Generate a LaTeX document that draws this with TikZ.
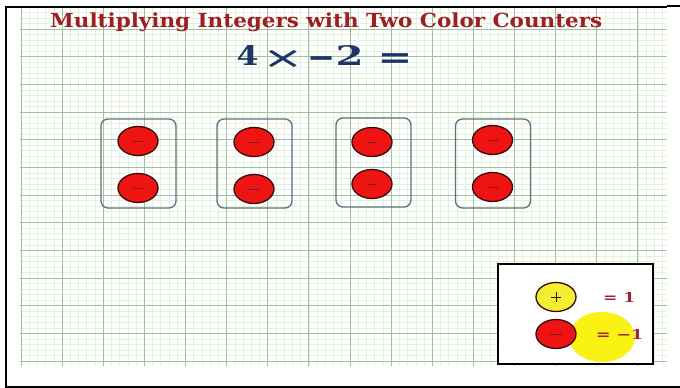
\documentclass[tikz,border=0pt]{standalone}
\usepackage{graphicx}
\usepackage{fontspec}
\setmainfont{Liberation Serif}
\newfontfamily\heavyserif{DejaVu Serif}
\newfontfamily\symsans{DejaVu Sans}
\usetikzlibrary{shapes.geometric}
\definecolor{gridmajor}{HTML}{9CC29E}
\definecolor{gridminor}{HTML}{E2F1DC}
\definecolor{titlered}{HTML}{9E1E24}
\definecolor{eqblue}{HTML}{1E3666}
\definecolor{ctrred}{HTML}{EE1414}
\definecolor{ctredge}{HTML}{3A0A0A}
\definecolor{minuscol}{HTML}{8A1616}
\definecolor{boxedge}{HTML}{5F7080}
\definecolor{ctryellow}{HTML}{F3EE30}
\definecolor{glow}{HTML}{FAF214}
\definecolor{legred}{HTML}{A0203A}
\tikzset{
  redctr/.style={ellipse, draw=ctredge, line width=1.3pt, fill=ctrred, minimum width=40pt, minimum height=29pt, inner sep=0pt},
  yelctr/.style={ellipse, draw=ctredge, line width=1.3pt, fill=ctryellow, minimum width=40pt, minimum height=29pt, inner sep=0pt},
  groupbox/.style={draw=boxedge, line width=1.3pt, rounded corners=7pt, minimum width=75pt, minimum height=89pt, inner sep=0pt},
  minusmark/.style={draw=minuscol, line width=1pt},
  frameline/.style={draw=black, line width=2pt},
  eqglyph/.style={anchor=base, inner sep=0pt, text=eqblue, font=\heavyserif\bfseries},
  eqsym/.style={anchor=base, inner sep=0pt, text=eqblue, font=\symsans\fontsize{32}{34}\selectfont\bfseries},
  eqsymlight/.style={anchor=base, inner sep=0pt, text=eqblue, font=\symsans\fontsize{32}{34}\selectfont}
}
\begin{document}
\begin{tikzpicture}[x=1pt,y=-1pt]
\useasboundingbox (0,0) rectangle (680,388);
\fill[white] (0,0) rectangle (680,388);
% grid paper
\foreach \i in {0,...,78}
  \draw[gridminor, line width=0.7pt] ({21+\i*8.226},6.9) -- ({21+\i*8.226},366);
\foreach \i in {0,...,64}
  \draw[gridminor, line width=0.7pt] (20,{6.9+\i*5.534}) -- (667,{6.9+\i*5.534});
\foreach \i in {0,...,15}
  \draw[gridmajor, line width=1pt] ({21+\i*41.13},6.9) -- ({21+\i*41.13},366);
\foreach \i in {0,...,12}
  \draw[gridmajor, line width=1pt] (20,{29+\i*27.67}) -- (667,{29+\i*27.67});
% frame
\draw[frameline] (6,6) -- (6,387);
\draw[frameline] (5,7) -- (667,7);
\draw[frameline] (667,6) -- (680,6);
\draw[frameline] (5,386.5) -- (680,386.5);
% title
\node[anchor=base west, inner sep=0pt, text=titlered] (title) at (50,27.7)
  {\resizebox{552pt}{14.7pt}{\heavyserif\bfseries Multiplying Integers with Two Color Counters}};
% equation
\node[eqglyph] (eqfour) at (247.5,65) {\resizebox{22pt}{20pt}{4}};
\node[eqsymlight] (eqtimes) at (283.5,68) {\scalebox{1.55}[0.95]{×}};
\node[eqsym] (eqminus) at (322,68) {\scalebox{1.05}[1]{−}};
\node[eqglyph] (eqtwo) at (349.5,65) {\resizebox{28pt}{20pt}{2}};
\node[eqsym] (eqeq) at (395,67) {\scalebox{1.3}[0.9]{=}};
% groups
\node[groupbox] (g1) at (138.5,163.5) {};
\node[groupbox] (g2) at (254.5,163.5) {};
\node[groupbox] (g3) at (373.5,162.5) {};
\node[groupbox] (g4) at (493,163.5) {};
\foreach \n/\x/\ya/\yb in {a/138/141/188, b/254/142/189, c/372/142/184, d/492.5/140/187}{
  \node[redctr] (c\n1) at (\x,\ya) {};
  \node[redctr] (c\n2) at (\x,\yb) {};
  \draw[minusmark] ([xshift=-5pt]c\n1.center) -- ([xshift=5pt]c\n1.center);
  \draw[minusmark] ([xshift=-5pt]c\n2.center) -- ([xshift=5pt]c\n2.center);
}
% legend
\node[draw=black, line width=1.8pt, fill=white, minimum width=155pt, minimum height=100pt, inner sep=0pt] (legend) at (575.5,314) {};
\node[ellipse, fill=glow, minimum width=66pt, minimum height=50pt, inner sep=0pt] (glowspot) at (602,337) {};
\node[yelctr] (plusctr) at (556,297) {};
\draw[draw=ctredge, line width=1pt] ([xshift=-5pt]plusctr.center) -- ([xshift=5pt]plusctr.center);
\draw[draw=ctredge, line width=1pt] ([yshift=-5pt]plusctr.center) -- ([yshift=5pt]plusctr.center);
\node[redctr] (minusctr) at (556,334) {};
\draw[minusmark] ([xshift=-6pt]minusctr.center) -- ([xshift=6pt]minusctr.center);
\node[anchor=base west, inner sep=0pt, text=legred] (eqone) at (603,302)
  {\resizebox{32pt}{10pt}{\heavyserif\bfseries = 1}};
\node[anchor=base west, inner sep=0pt, text=legred] (eqmone) at (596,339)
  {\resizebox{47pt}{10pt}{\heavyserif\bfseries = −1}};
\end{tikzpicture}
\end{document}
